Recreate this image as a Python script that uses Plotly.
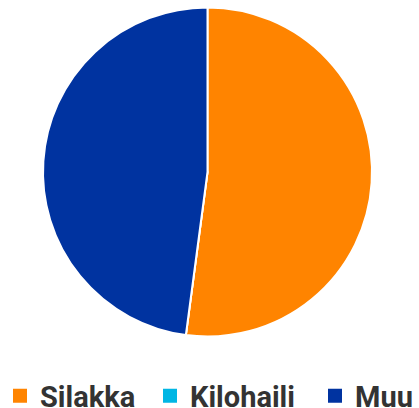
import plotly.graph_objects as go

labels = ["Silakka", "Kilohaili", "Muu"]
values = [52.1, 0, 47.9]
colors = ["#FF8400", "#00B6E4", "#0033A0"]

W, H = 419, 408

fig = go.Figure()
fig.add_trace(go.Pie(
    labels=labels,
    values=values,
    sort=False,
    direction="clockwise",
    rotation=0,
    marker=dict(colors=colors, line=dict(color="white", width=2)),
    textinfo="none",
    hoverinfo="label+percent",
    showlegend=False,
    domain=dict(x=[0, 415 / W], y=[71.5 / H, 400.5 / H]),
))

# legend entries with larger square swatches, one legend box per entry
legend_names = ["legend", "legend2", "legend3"]
square_left = [12, 165, 330]  # target x of each swatch
for lab, col, lg in zip(labels, colors, legend_names):
    fig.add_trace(go.Scatter(
        x=[None], y=[None], mode="markers", name=lab,
        marker=dict(symbol="square", size=14, color=col),
        hoverinfo="skip", legend=lg,
    ))

legend_font = dict(family="Roboto", size=29, color="#333333", weight="bold")
layout_legends = {}
for lg, sx in zip(legend_names, square_left):
    layout_legends[lg] = dict(
        orientation="h",
        xref="container", yref="container",
        x=max(0, (sx - 15) / W), xanchor="left",
        y=12 / H, yanchor="middle",
        font=legend_font,
        itemsizing="trace",
        bgcolor="rgba(0,0,0,0)",
    )

fig.update_layout(
    width=W, height=H,
    margin=dict(l=0, r=0, t=0, b=0, autoexpand=False),
    paper_bgcolor="white",
    plot_bgcolor="white",
    xaxis=dict(visible=False),
    yaxis=dict(visible=False),
    showlegend=True,
    **layout_legends,
)

fig.write_html("out.html", config={"displayModeBar": False},
               post_script="document.body.style.margin='0';")
